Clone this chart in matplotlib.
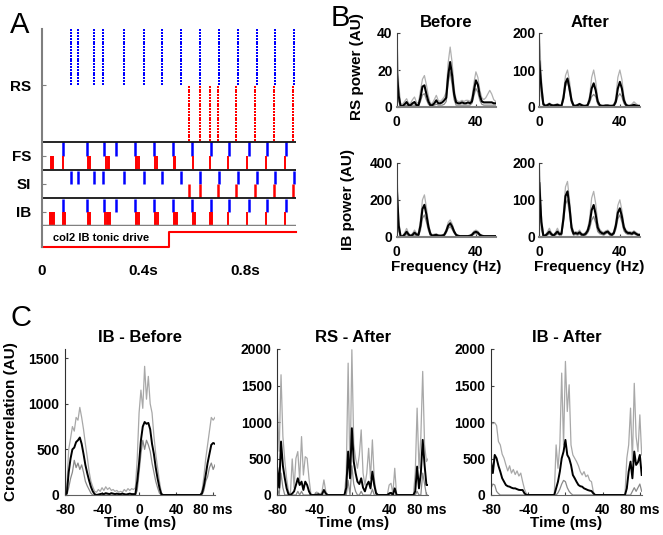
import numpy as np
import matplotlib
matplotlib.use("Agg")
import matplotlib.pyplot as plt

plt.rcParams['font.family'] = ['Liberation Sans', 'DejaVu Sans']
plt.rcParams['font.weight'] = 'bold'

# ---------------- Panel A data (spike times, s) ----------------
rs_blue_times = [0.114, 0.140, 0.206, 0.242, 0.324, 0.400, 0.474, 0.548, 0.623, 0.697, 0.771, 0.845, 0.919, 0.993]
rs_red_times = [0.579, 0.623, 0.660, 0.691, 0.764, 0.839, 0.913, 0.989]
fs_blue_times = [0.083, 0.177, 0.246, 0.292, 0.367, 0.442, 0.515, 0.591, 0.664, 0.738, 0.813, 0.885, 0.959]
fs_red_times = [0.034, 0.039, 0.043, 0.083, 0.180, 0.185, 0.189, 0.253, 0.258, 0.262, 0.371, 0.375, 0.380,
                0.446, 0.452, 0.518, 0.524, 0.594, 0.662, 0.734, 0.806, 0.881, 0.957]
si_blue_times = [0.114, 0.140, 0.206, 0.242, 0.324, 0.400, 0.474, 0.548, 0.623, 0.697, 0.771, 0.845, 0.919, 0.993]
si_red_times = [0.579, 0.623, 0.691, 0.764, 0.839, 0.913, 0.989]
ib_blue_times = [0.083, 0.177, 0.246, 0.292, 0.367, 0.442, 0.515, 0.591, 0.664, 0.738, 0.813, 0.885, 0.959]
ib_red_times = [0.030, 0.034, 0.038, 0.042, 0.046, 0.083, 0.087, 0.091, 0.180, 0.184, 0.189,
                0.249, 0.254, 0.259, 0.264, 0.269, 0.371, 0.375, 0.380, 0.446, 0.450, 0.455,
                0.518, 0.522, 0.527, 0.531, 0.594, 0.598, 0.603, 0.662, 0.666, 0.671,
                0.734, 0.806, 0.881, 0.957]
drive_t = [0.0, 0.5, 1.0]
drive_level = [0, 1, 1]
a_tick_vals = [0, 0.4, 0.8]
a_tick_labels = ['0', '0.4s', '0.8s']
a_row_labels = ['RS', 'FS', 'SI', 'IB']

# ---------------- Panel B data (power spectra, 0..50 Hz) ----------------
freq = np.arange(0, 51)
rs_before_mean = [20, 6, 0.5, 0.5, 1.5, 2.7, 1, 1, 2, 2.7, 1, 1, 5, 11, 11.7, 7, 3, 1, 1, 2, 3.6, 2, 2, 2.5, 3.6,
                  5, 17, 24.3, 17, 7, 2.5, 2, 2, 2.5, 2, 2, 2.5, 2, 3, 9, 14.4, 12, 6, 3, 2.5, 2.5, 2.5, 2.5, 2.5, 2, 2]
rs_before_hi = [42, 12, 1.5, 1.5, 3, 4.5, 2, 2, 4, 5.4, 2.5, 2, 9, 15, 17, 12, 6, 2, 2, 4, 6.3, 3.5, 3, 4, 5.4,
                8, 24, 32.4, 24, 10, 4, 3, 3, 3.6, 3, 3.6, 3.6, 3, 5, 13, 19, 16, 9, 5, 4, 5, 7, 9, 7, 4, 3]
rs_before_lo = [28, 3, 0, 0, 0.5, 1, 0.5, 0.5, 1, 1, 0.5, 0.5, 3, 6.5, 7.2, 4, 1.5, 0.5, 0.5, 1, 1.5, 1, 1, 1, 1.5,
                3, 13, 19, 12, 4, 1, 1, 1, 1, 1, 1, 1, 1, 2, 6, 10, 8, 3.5, 1.5, 1, 1, 1, 1, 1, 1, 1]
rs_after_mean = [123, 55, 8, 3, 5, 8, 5, 4, 5, 6, 4, 3, 25, 65, 77, 50, 18, 4, 3, 5, 8, 5, 3, 3, 5,
                 20, 50, 64, 45, 15, 5, 3, 3, 4, 4, 3, 3, 4, 15, 50, 68, 50, 18, 6, 3, 3, 4, 6, 4, 3, 3]
rs_after_hi = [200, 80, 12, 5, 7, 11, 7, 6, 7, 9, 6, 5, 35, 85, 100, 70, 25, 6, 5, 7, 10, 7, 5, 5, 8,
               30, 80, 100, 70, 22, 7, 5, 5, 6, 6, 5, 5, 6, 25, 80, 100, 75, 28, 9, 5, 5, 8, 14, 9, 5, 4]
rs_after_lo = [180, 30, 4, 1, 3, 5, 3, 2, 3, 3, 2, 1, 18, 55, 72, 40, 12, 2, 1, 3, 5, 3, 1, 1, 3,
               12, 28, 34, 28, 8, 3, 1, 1, 2, 2, 1, 1, 2, 10, 28, 36, 28, 10, 3, 1, 1, 2, 3, 2, 1, 1]
ib_before_mean = [273, 60, 2, 2, 12, 27, 12, 4, 10, 22, 12, 10, 60, 150, 173, 120, 55, 15, 5, 8, 10, 6, 5, 6, 10,
                  30, 60, 73, 55, 28, 10, 5, 3, 3, 3, 3, 3, 5, 10, 22, 27, 22, 10, 5, 3, 3, 3, 3, 3, 3, 3]
ib_before_hi = [390, 90, 5, 5, 22, 45, 20, 8, 18, 36, 20, 18, 90, 200, 227, 160, 75, 25, 10, 14, 16, 10, 9, 10, 15,
                40, 78, 91, 70, 35, 14, 8, 6, 6, 6, 6, 6, 8, 16, 30, 36, 30, 15, 8, 6, 5, 5, 5, 5, 5, 5]
ib_before_lo = [200, 30, 0, 0, 5, 12, 5, 1, 4, 10, 5, 4, 35, 100, 118, 80, 35, 6, 1, 3, 4, 2, 2, 2, 5,
                20, 45, 55, 40, 20, 6, 2, 1, 1, 1, 1, 1, 2, 5, 14, 18, 14, 5, 2, 1, 1, 1, 1, 1, 1, 1]
ib_after_mean = [145, 40, 3, 3, 8, 14, 7, 3, 8, 14, 7, 8, 50, 110, 123, 80, 25, 8, 10, 8, 12, 6, 5, 8, 16,
                 35, 72, 86, 60, 25, 14, 10, 8, 12, 14, 8, 5, 10, 30, 65, 77, 55, 25, 14, 10, 10, 8, 12, 8, 5, 5]
ib_after_hi = [200, 60, 6, 5, 13, 23, 11, 5, 12, 23, 11, 12, 65, 135, 150, 100, 35, 12, 14, 12, 18, 9, 8, 12, 22,
               50, 105, 123, 90, 38, 20, 14, 12, 16, 18, 12, 8, 14, 40, 85, 100, 72, 32, 18, 14, 14, 12, 16, 12, 8, 7]
ib_after_lo = [170, 20, 1, 1, 4, 8, 4, 1, 4, 8, 4, 4, 38, 88, 100, 62, 16, 4, 6, 4, 7, 3, 2, 4, 10,
               22, 45, 55, 38, 14, 8, 6, 4, 8, 10, 4, 2, 6, 20, 48, 59, 40, 16, 9, 6, 6, 5, 8, 5, 3, 3]

# ---------------- Panel C data (crosscorrelation, lag -80..82 ms, 2 ms) ----------------
lag = np.arange(-80, 83, 2)
z10 = [0] * 10
ibb_mean = ([0, 20, 250, 400, 500, 520, 580, 600, 630, 560] +
            [450, 330, 240, 160, 90, 40, 10, 0, 5, 10] +
            [15, 10, 20, 15, 10, 20, 15, 10, 15, 10] +
            [10, 15, 10, 5, 10, 15, 10, 10, 10, 150] +
            [350, 600, 750, 800, 780, 790, 720, 560, 450, 300] +
            [180, 80, 10, 0, 0, 0, 0, 0, 0, 0] +
            z10 +
            [0, 0, 0, 0, 20, 100, 220, 350, 450, 550] +
            [570, 560])
ibb_hi = ([0, 100, 500, 620, 750, 700, 850, 820, 960, 850] +
          [720, 560, 420, 260, 150, 90, 40, 30, 60, 40] +
          [80, 50, 90, 60, 80, 50, 60, 40, 50, 30] +
          [40, 30, 60, 40, 70, 50, 70, 60, 80, 400] +
          [900, 1150, 950, 1410, 1050, 1300, 1000, 900, 650, 450] +
          [300, 150, 30, 0, 0, 0, 0, 0, 0, 0] +
          [0, 5, 5, 0, 0, 0, 0, 0, 0, 0] +
          [0, 0, 0, 0, 50, 200, 400, 550, 700, 850] +
          [820, 850])
ibb_lo = ([0, 0, 80, 180, 250, 380, 300, 350, 280, 330] +
          [250, 150, 100, 60, 20, 0, 0, 0, 0, 0] +
          z10 +
          [0, 0, 0, 0, 0, 0, 0, 0, 0, 50] +
          [250, 450, 600, 500, 600, 550, 480, 350, 250, 150] +
          [80, 20, 0, 0, 0, 0, 0, 0, 0, 0] +
          z10 +
          [0, 0, 0, 0, 0, 50, 150, 200, 300, 350] +
          [280, 330])
rsa_mean = ([366, 100, 732, 400, 233, 91, 10, 0, 20, 50] +
            [137, 229, 137, 183, 69, 183, 137, 50, 0, 0] +
            [0, 5, 10, 0, 10, 69, 20, 0, 0, 0] +
            [0, 0, 0, 0, 0, 0, 0, 100, 595, 229] +
            [915, 458, 300, 183, 150, 229, 100, 50, 137, 183] +
            [91, 320, 137, 23, 0, 0, 0, 0, 0, 0] +
            [20, 30, 0, 91, 0, 0, 0, 0, 0, 0] +
            [0, 0, 0, 0, 50, 389, 91, 300, 755, 412] +
            [137, 137])
rsa_hi = ([1190, 600, 1647, 800, 480, 225, 50, 0, 494, 100] +
          [503, 595, 200, 800, 274, 525, 503, 229, 20, 0] +
          [10, 40, 30, 0, 50, 206, 50, 0, 0, 0] +
          [0, 0, 0, 0, 0, 0, 0, 300, 1806, 229] +
          [1990, 700, 503, 366, 549, 892, 300, 137, 297, 640] +
          [229, 755, 229, 45, 0, 0, 0, 0, 0, 0] +
          [137, 160, 20, 366, 0, 0, 0, 0, 0, 0] +
          [0, 0, 0, 0, 300, 1190, 366, 800, 1693, 686] +
          [458, 503])
rsa_lo = ([100, 0, 300, 100, 0, 0, 0, 0, 0, 0] +
          [0, 50, 0, 50, 0, 0, 0, 0, 0, 0] +
          z10 +
          [0, 0, 0, 0, 0, 0, 0, 0, 200, 0] +
          [400, 150, 50, 0, 0, 50, 0, 0, 0, 0] +
          [0, 80, 0, 0, 0, 0, 0, 0, 0, 0] +
          z10 +
          [0, 0, 0, 0, 0, 50, 0, 0, 300, 150] +
          [0, 0])
iba_mean = ([457, 300, 549, 503, 400, 320, 230, 183, 137, 120] +
            [114, 100, 91, 91, 80, 70, 68, 68, 23, 0] +
            z10 +
            [0, 0, 0, 0, 0, 91, 183, 320, 503, 595] +
            [755, 549, 503, 412, 274, 229, 180, 137, 120, 114] +
            [91, 80, 68, 60, 55, 23, 0, 0, 0, 0] +
            z10 +
            [0, 0, 0, 91, 320, 457, 229, 595, 412, 450] +
            [549, 274])
iba_hi = ([1000, 976, 990, 950, 732, 686, 560, 503, 412, 330] +
          [400, 300, 350, 280, 330, 260, 300, 183, 80, 20] +
          z10 +
          [0, 0, 0, 0, 0, 686, 366, 686, 1670, 686] +
          [1830, 1144, 1510, 686, 549, 503, 457, 400, 320, 274] +
          [320, 250, 274, 200, 183, 45, 0, 0, 0, 0] +
          z10 +
          [0, 0, 0, 503, 686, 1190, 457, 1530, 800, 595] +
          [1098, 549])
iba_lo = ([91, 150, 137, 50, 20, 0, 0, 0, 0, 0] +
          z10 +
          z10 +
          [0, 0, 0, 0, 0, 0, 30, 80, 150, 200] +
          [183, 100, 50, 20, 0, 0, 0, 0, 0, 0] +
          z10 +
          z10 +
          [0, 0, 0, 0, 0, 0, 50, 100, 50, 100] +
          [150, 50])

W, H = 663, 535
fig = plt.figure(figsize=(W / 100, H / 100), dpi=100)


def px_axes(x0, y0, x1, y1):
    return fig.add_axes([x0 / W, 1 - y1 / H, (x1 - x0) / W, (y1 - y0) / H])


BLUE = '#0000ff'
RED = '#ff0000'
SPINE = '#7f7f7f'

# ================= Panel A =================
axr = px_axes(42, 29, 296, 226)
axr.set_xlim(0, 1)
axr.set_ylim(70, 0)
for s in ['top', 'right', 'bottom']:
    axr.spines[s].set_visible(False)
axr.spines['left'].set_color(SPINE)
axr.spines['left'].set_linewidth(1.5)
axr.set_xticks([])
axr.set_yticks([20, 45, 55, 65], a_row_labels)
axr.tick_params(axis='y', direction='in', length=3, color=SPINE, pad=8, labelsize=11)

rows_blue = np.arange(20) + 0.5
rows_red = np.arange(20) + 20.5
xb = np.repeat(rs_blue_times, len(rows_blue))
yb = np.tile(rows_blue, len(rs_blue_times))
axr.scatter(xb, yb, s=2.5, marker='s', color=BLUE, linewidths=0)
xr = np.repeat(rs_red_times, len(rows_red))
yr = np.tile(rows_red, len(rs_red_times))
axr.scatter(xr, yr, s=2.5, marker='s', color=RED, linewidths=0)

axr.vlines(fs_blue_times, 40.3, 45, color=BLUE, lw=1.8)
axr.vlines(fs_red_times, 45, 49.7, color=RED, lw=1.4)
axr.vlines(si_blue_times, 50.3, 55, color=BLUE, lw=1.8)
axr.vlines(si_red_times, 55, 59.7, color=RED, lw=1.8)
axr.vlines(ib_blue_times, 60.3, 65, color=BLUE, lw=1.8)
axr.vlines(ib_red_times, 65, 69.5, color=RED, lw=1.4)

axr.axhline(40, color='k', lw=1.2)
axr.axhline(50, color='k', lw=1.2)
axr.axhline(60, color='k', lw=1.2)
axr.axhline(70, color='#808080', lw=2.5)

axd = px_axes(42, 226, 296, 247)
axd.set_xlim(0, 1)
axd.set_ylim(-0.03, 1.4)
for s in ['top', 'right', 'bottom']:
    axd.spines[s].set_visible(False)
axd.spines['left'].set_color(SPINE)
axd.spines['left'].set_linewidth(1.5)
axd.set_yticks([])
axd.step(drive_t, drive_level, where='post', color=RED, lw=1.5, clip_on=False)
axd.set_xticks(a_tick_vals, a_tick_labels)
axd.tick_params(axis='x', length=0, pad=12, labelsize=11)
axd.text(0.045, 0.42, 'col2 IB tonic drive', transform=axd.transAxes, fontsize=8,
         fontweight='bold', va='center', ha='left')

fig.text(10 / W, 1 - 25 / H, 'A', fontsize=21, fontweight='normal', va='center', ha='left')

# ================= Panel B =================
def style_b(ax, ymax, yticks):
    ax.set_xlim(0, 50)
    ax.set_ylim(0, ymax)
    ax.set_xticks([0, 40])
    ax.set_yticks(yticks)
    for s in ['top', 'right']:
        ax.spines[s].set_visible(False)
    ax.spines['left'].set_color('#404040')
    ax.spines['bottom'].set_color(SPINE)
    ax.spines['bottom'].set_linewidth(1.5)
    ax.tick_params(direction='in', length=2.5, labelsize=10, color='#404040')
    ax.tick_params(axis='x', pad=6)
    ax.tick_params(axis='y', pad=3)


def plot_spec(ax, lo, hi, mean):
    ax.plot(freq, hi, color='#b0b0b0', lw=0.9)
    ax.plot(freq, lo, color='#8a8a8a', lw=0.9)
    ax.plot(freq, mean, color='k', lw=1.5)


b1 = px_axes(396.7, 33, 495.7, 107)
plot_spec(b1, rs_before_lo, rs_before_hi, rs_before_mean)
style_b(b1, 40, [0, 20, 40])
b1.set_title('Before', fontsize=12, fontweight='bold', pad=4)
b1.set_ylabel('RS power (AU)', fontsize=11, fontweight='bold')
b1.yaxis.set_label_coords(-0.33, 0.55)

b2 = px_axes(539.3, 33, 640, 107)
plot_spec(b2, rs_after_lo, rs_after_hi, rs_after_mean)
style_b(b2, 200, [0, 100, 200])
b2.set_title('After', fontsize=12, fontweight='bold', pad=4)

b3 = px_axes(396.7, 163, 495.7, 236.7)
plot_spec(b3, ib_before_lo, ib_before_hi, ib_before_mean)
style_b(b3, 400, [0, 200, 400])
b3.set_ylabel('IB power (AU)', fontsize=11, fontweight='bold')
b3.yaxis.set_label_coords(-0.42, 0.5)
b3.set_xlabel('Frequency (Hz)', fontsize=11, fontweight='bold', labelpad=1)

b4 = px_axes(539.3, 163, 640, 236.7)
plot_spec(b4, ib_after_lo, ib_after_hi, ib_after_mean)
style_b(b4, 200, [0, 100, 200])
b4.set_xlabel('Frequency (Hz)', fontsize=11, fontweight='bold', labelpad=1)

fig.text(331 / W, 1 - 18 / H, 'B', fontsize=21, fontweight='normal', va='center', ha='left')

# ================= Panel C =================
def style_c(ax, ymax, yticks):
    ax.set_xlim(-80, 82)
    ax.set_ylim(0, ymax)
    ax.set_xticks([-80, -40, 0, 40, 80], ['-80', '-40', '0', '40', '80 ms'])
    ax.set_yticks(yticks)
    for s in ['top', 'right']:
        ax.spines[s].set_visible(False)
    ax.spines['left'].set_color('#303030')
    ax.spines['bottom'].set_color('#606060')
    ax.tick_params(direction='in', length=2.5, labelsize=10, color='#404040')
    ax.tick_params(axis='x', pad=6)
    ax.tick_params(axis='y', pad=4)
    ax.set_xlabel('Time (ms)', fontsize=11, fontweight='bold', labelpad=-1)


def plot_cc(ax, lo, hi, mean):
    ax.plot(lag, hi, color='#a8a8a8', lw=0.9)
    ax.plot(lag, lo, color='#8a8a8a', lw=0.9)
    ax.plot(lag, mean, color='k', lw=1.4)


c1 = px_axes(65, 349, 215, 495)
plot_cc(c1, ibb_lo, ibb_hi, ibb_mean)
style_c(c1, 1600, [0, 500, 1000, 1500])
c1.set_title('IB - Before', fontsize=12, fontweight='bold', pad=5)
c1.set_ylabel('Crosscorrelation (AU)', fontsize=11, fontweight='bold')
c1.yaxis.set_label_coords(-0.31, 0.5)

c2 = px_axes(277.3, 349, 428.3, 495)
plot_cc(c2, rsa_lo, rsa_hi, rsa_mean)
style_c(c2, 2000, [0, 500, 1000, 1500, 2000])
c2.set_title('RS - After', fontsize=12, fontweight='bold', pad=5)

c3 = px_axes(491, 349, 641.7, 495)
plot_cc(c3, iba_lo, iba_hi, iba_mean)
style_c(c3, 2000, [0, 500, 1000, 1500, 2000])
c3.set_title('IB - After', fontsize=12, fontweight='bold', pad=5)

fig.text(10 / W, 1 - 318 / H, 'C', fontsize=21, fontweight='normal', va='center', ha='left')

fig.savefig('out.png', dpi=100)
